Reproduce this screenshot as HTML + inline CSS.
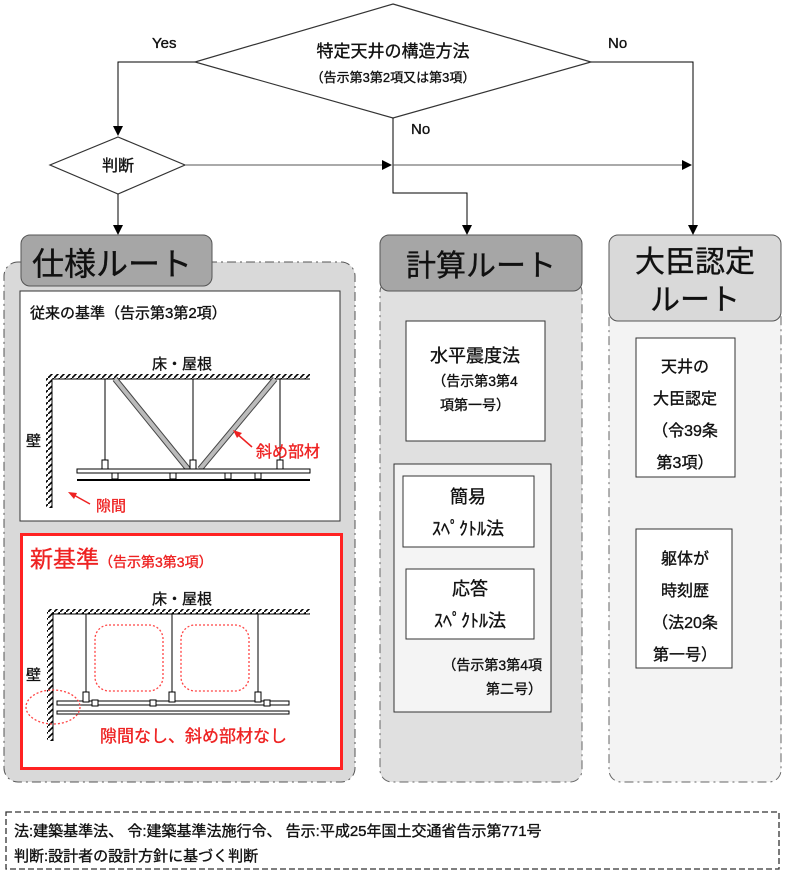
<!DOCTYPE html>
<html><head><meta charset="utf-8"><style>
body{margin:0;background:#fff}
svg{display:block}
text{font-family:"Liberation Sans","Noto Sans CJK JP",sans-serif;fill:#111;stroke:#111;stroke-width:0.35}
</style></head><body>
<svg width="787" height="873" viewBox="0 0 787 873" xmlns="http://www.w3.org/2000/svg">
<defs>
<marker id="ar" markerWidth="10" markerHeight="10" refX="9" refY="5" orient="auto" markerUnits="userSpaceOnUse"><path d="M0,0 L10,5 L0,10 z" fill="#000"/></marker>
<pattern id="hatch" width="6" height="6" patternUnits="userSpaceOnUse"><path d="M0,6 L6,0" stroke="#000" stroke-width="1.6"/></pattern>
</defs>
<polygon points="393,4 591,62 393,118 195,62" fill="#fff" stroke="#333" stroke-width="1.2"/>
<text x="393" y="57" font-size="17" text-anchor="middle">特定天井の構造方法</text>
<text x="393" y="82" font-size="13" text-anchor="middle">（告示第3第2項又は第3項）</text>
<text x="152" y="48" font-size="15">Yes</text>
<text x="608" y="48" font-size="15">No</text>
<text x="411" y="134" font-size="15">No</text>
<polyline points="195,62 118,62 118,135" fill="none" stroke="#000" marker-end="url(#ar)"/>
<polyline points="591,62 693,62 693,234" fill="none" stroke="#000" marker-end="url(#ar)"/>
<polyline points="393,118 393,193 467,193 467,234" fill="none" stroke="#000" marker-end="url(#ar)"/>
<polygon points="118,137 185,165 118,194 50,165" fill="#fff" stroke="#333" stroke-width="1.2"/>
<text x="118" y="171" font-size="16" text-anchor="middle">判断</text>
<line x1="185" y1="165" x2="391" y2="165" stroke="#555" marker-end="url(#ar)"/>
<line x1="393" y1="165" x2="691" y2="165" stroke="#555" marker-end="url(#ar)"/>
<line x1="118" y1="194" x2="118" y2="234" stroke="#000" marker-end="url(#ar)"/>

<rect x="4" y="262" width="351" height="520" rx="14" fill="#d9d9d9" stroke="#555" stroke-dasharray="9,4,2,4"/>
<rect x="21" y="235" width="191" height="51" rx="9" fill="#a6a6a6" stroke="#555"/>
<text x="32" y="275" font-size="32">仕様ルート</text>
<rect x="20" y="291" width="320" height="230" fill="#fff" stroke="#333"/>
<text x="30" y="318" font-size="15">従来の基準（告示第3第2項）</text>
<text x="182" y="369" font-size="15" text-anchor="middle">床・屋根</text>
<rect x="48" y="374" width="262" height="5" fill="url(#hatch)"/>
<rect x="46" y="376" width="6" height="132" fill="url(#hatch)"/>
<line x1="52" y1="379" x2="310" y2="379" stroke="#000"/>
<line x1="52" y1="379" x2="52" y2="508" stroke="#000"/>
<text x="26" y="446" font-size="15">壁</text>
<g stroke="#000" stroke-width="1"><line x1="105" y1="379" x2="105" y2="462"/><line x1="193" y1="379" x2="193" y2="462"/><line x1="280" y1="379" x2="280" y2="462"/></g>
<line x1="115" y1="379" x2="188" y2="469" stroke="#444" stroke-width="6"/>
<line x1="115" y1="379" x2="188" y2="469" stroke="#bbb" stroke-width="4"/>
<line x1="275" y1="379" x2="200" y2="469" stroke="#444" stroke-width="6"/>
<line x1="275" y1="379" x2="200" y2="469" stroke="#bbb" stroke-width="4"/>
<rect x="77" y="469" width="233" height="4" fill="#fff" stroke="#000"/>
<line x1="77" y1="480" x2="310" y2="480" stroke="#000" stroke-width="2"/>
<g fill="#fff" stroke="#000"><rect x="102" y="460" width="6" height="9"/><rect x="190" y="460" width="6" height="9"/><rect x="277" y="460" width="6" height="9"/><rect x="112" y="473" width="6" height="6"/><rect x="170" y="473" width="6" height="6"/><rect x="225" y="473" width="6" height="6"/><rect x="255" y="473" width="6" height="6"/></g>
<text x="256" y="457" font-size="16" style="fill:#e22;stroke:#e22">斜め部材</text>
<line x1="252" y1="447" x2="236" y2="433" stroke="#e22" stroke-width="1.5"/><path d="M233,430 L242,433 L237,438z" fill="#e22"/>
<text x="96" y="511" font-size="15" style="fill:#e22;stroke:#e22">隙間</text>
<line x1="90" y1="504" x2="72" y2="494" stroke="#e22" stroke-width="1.5"/><path d="M68,492 L77,493 L74,499z" fill="#e22"/>

<rect x="21.5" y="534.5" width="320" height="234" fill="#fff" stroke="#f22" stroke-width="3"/>
<text x="30" y="567" font-size="23" style="fill:#e22;stroke:#e22">新基準<tspan font-size="14">（告示第3第3項）</tspan></text>
<text x="182" y="604" font-size="15" text-anchor="middle">床・屋根</text>
<rect x="48" y="609" width="262" height="5" fill="url(#hatch)"/>
<rect x="47" y="611" width="6" height="130" fill="url(#hatch)"/>
<line x1="53" y1="614" x2="310" y2="614" stroke="#000"/>
<line x1="53" y1="614" x2="53" y2="741" stroke="#000"/>
<text x="26" y="680" font-size="15">壁</text>
<g stroke="#000"><line x1="86" y1="614" x2="86" y2="700"/><line x1="172" y1="614" x2="172" y2="700"/><line x1="258" y1="614" x2="258" y2="700"/></g>
<rect x="57" y="701" width="232" height="4" fill="#fff" stroke="#000"/>
<rect x="57" y="711" width="232" height="3" fill="#fff" stroke="#000"/>
<g fill="#fff" stroke="#000"><rect x="83" y="692" width="6" height="10"/><rect x="169" y="692" width="6" height="10"/><rect x="255" y="692" width="6" height="10"/><rect x="92" y="700" width="6" height="6"/><rect x="150" y="700" width="6" height="6"/><rect x="264" y="700" width="6" height="6"/></g>
<g fill="none" stroke="#f44" stroke-width="1.3" stroke-dasharray="2,2"><rect x="95" y="625" width="68" height="66" rx="14"/><rect x="181" y="625" width="68" height="66" rx="14"/><ellipse cx="53" cy="707" rx="27" ry="17"/></g>
<text x="100" y="742" font-size="17" style="fill:#e22;stroke:#e22">隙間なし、斜め部材なし</text>

<rect x="380" y="280" width="202" height="502" rx="12" fill="#e0e0e0" stroke="#666" stroke-dasharray="9,4,2,4"/>
<rect x="380" y="235" width="202" height="56" rx="9" fill="#a6a6a6" stroke="#555"/>
<text x="481" y="276" font-size="30" text-anchor="middle">計算ルート</text>
<rect x="406" y="321" width="139" height="120" fill="#fff" stroke="#333"/>
<text x="475" y="362" font-size="18" text-anchor="middle">水平震度法</text>
<text x="475" y="386" font-size="14" text-anchor="middle">（告示第3第4</text>
<text x="475" y="410" font-size="14" text-anchor="middle">項第一号）</text>
<rect x="394" y="464" width="157" height="248" fill="#f4f4f4" stroke="#333"/>
<rect x="403" y="476" width="131" height="71" fill="#fff" stroke="#333"/>
<text x="468" y="503" font-size="18" text-anchor="middle">簡易</text>
<text x="468" y="535" font-size="18" text-anchor="middle">ｽﾍﾟｸﾄﾙ法</text>
<rect x="406" y="569" width="128" height="70" fill="#fff" stroke="#333"/>
<text x="470" y="595" font-size="18" text-anchor="middle">応答</text>
<text x="470" y="627" font-size="18" text-anchor="middle">ｽﾍﾟｸﾄﾙ法</text>
<text x="542" y="670" font-size="14" text-anchor="end">（告示第3第4項</text>
<text x="542" y="694" font-size="14" text-anchor="end">第二号）</text>

<rect x="609" y="300" width="172" height="482" rx="12" fill="#f3f3f3" stroke="#666" stroke-dasharray="9,4,2,4"/>
<rect x="609" y="235" width="172" height="86" rx="9" fill="#d9d9d9" stroke="#555"/>
<text x="695" y="272" font-size="30" text-anchor="middle">大臣認定</text>
<text x="695" y="310" font-size="30" text-anchor="middle">ルート</text>
<rect x="636" y="338" width="99" height="139" fill="#fff" stroke="#333"/>
<text x="685" y="372" font-size="16" text-anchor="middle">天井の</text>
<text x="685" y="404" font-size="16" text-anchor="middle">大臣認定</text>
<text x="685" y="436" font-size="16" text-anchor="middle">（令39条</text>
<text x="685" y="468" font-size="16" text-anchor="middle">第3項）</text>
<rect x="636" y="529" width="96" height="139" fill="#fff" stroke="#333"/>
<text x="685" y="564" font-size="16" text-anchor="middle">躯体が</text>
<text x="685" y="596" font-size="16" text-anchor="middle">時刻歴</text>
<text x="685" y="628" font-size="16" text-anchor="middle">（法20条</text>
<text x="685" y="660" font-size="16" text-anchor="middle">第一号）</text>

<rect x="6" y="812" width="773" height="57" fill="#fff" stroke="#333" stroke-width="1.3" stroke-dasharray="6,3"/>
<text x="14" y="836" font-size="15">法:建築基準法、 令:建築基準法施行令、 告示:平成25年国土交通省告示第771号</text>
<text x="14" y="861" font-size="15">判断:設計者の設計方針に基づく判断</text>
</svg>
</body></html>
